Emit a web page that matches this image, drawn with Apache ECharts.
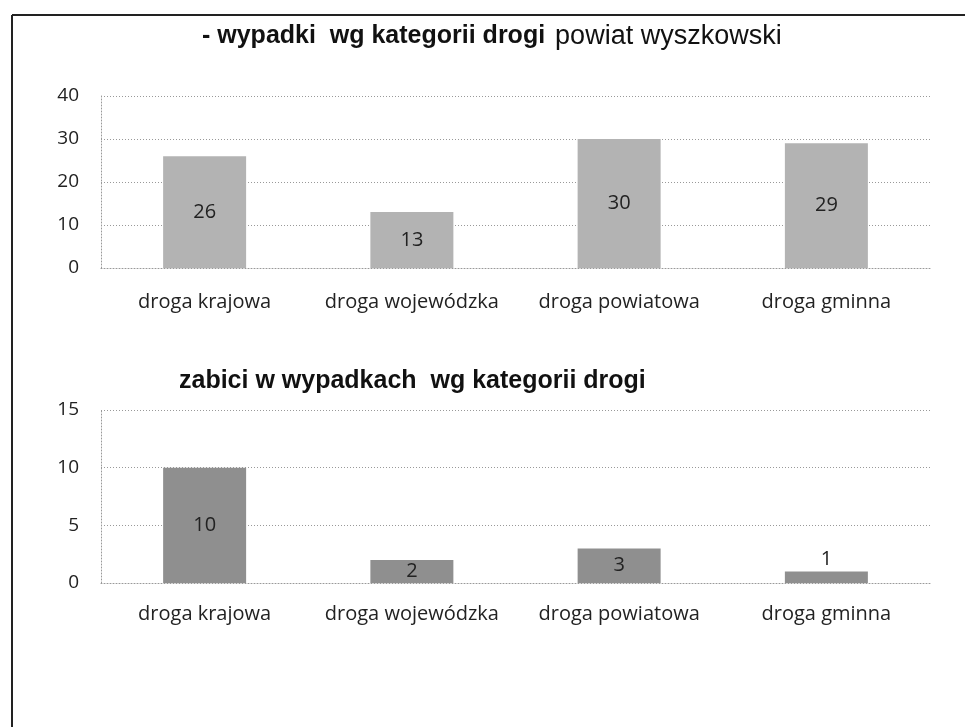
<!DOCTYPE html>
<html>
<head>
<meta charset="utf-8">
<script src="https://cdn.jsdelivr.net/npm/echarts@6/dist/echarts.min.js"></script>
<style>
  html, body { margin: 0; padding: 0; background: #fff; }
  #main { width: 965px; height: 727px; }
</style>
</head>
<body>
<div id="main"></div>
<script>
// dane
const categories = ['droga krajowa', 'droga wojewódzka', 'droga powiatowa', 'droga gminna']
const wypadki = [26, 13, 30, 29]
const zabici = [10, 2, 3, 1]

const chart = echarts.init(document.getElementById('main'))

const gridLine = { show: true, lineStyle: { color: '#999', type: [1, 2], width: 1 } }
const labelFont = 'Open Sans, sans-serif'
const titleFont = 'Liberation Sans Narrow, Liberation Sans, sans-serif'

const catAxis = (gridIndex, margin) => ({
  type: 'category',
  gridIndex,
  data: categories,
  axisLine: { show: true, lineStyle: { color: '#999', type: [1, 2] } },
  axisTick: { show: false },
  axisLabel: { interval: 0, color: '#222', fontSize: 20, fontFamily: labelFont, margin }
})

const valAxis = (gridIndex, max, interval) => ({
  type: 'value',
  gridIndex,
  min: 0,
  max,
  interval,
  axisLine: { show: true, lineStyle: { color: '#999', type: [1, 2] } },
  axisTick: { show: false },
  splitLine: gridLine,
  axisLabel: { color: '#222', fontSize: 19, fontFamily: labelFont, margin: 22 }
})

// mała wartość -> etykieta nad słupkiem
const zabiciData = zabici.map(v => v < 2 ? { value: v, label: { position: 'top', distance: 2 } } : v)

const option = {
  animation: false,
  backgroundColor: '#fff',
  title: [
    {
      left: 197,
      top: 18,
      text: '{b|- wypadki  wg kategorii drogi}  {n|powiat wyszkowski}',
      textStyle: {
        rich: {
          b: { fontFamily: titleFont, fontWeight: 'bold', fontSize: 25, color: '#111' },
          n: { fontFamily: titleFont, fontWeight: 'normal', fontSize: 27, color: '#111' }
        }
      }
    },
    {
      left: 174,
      top: 364,
      text: 'zabici w wypadkach  wg kategorii drogi',
      textStyle: { fontFamily: titleFont, fontWeight: 'bold', fontSize: 25, color: '#111' }
    }
  ],
  grid: [
    { left: 101, right: 35, top: 96, height: 172 },
    { left: 101, right: 35, top: 410, height: 173 }
  ],
  xAxis: [catAxis(0, 24), catAxis(1, 21)],
  yAxis: [valAxis(0, 40, 10), valAxis(1, 15, 5)],
  series: [
    {
      type: 'bar',
      xAxisIndex: 0,
      yAxisIndex: 0,
      data: wypadki,
      barWidth: 83,
      itemStyle: { color: '#b3b3b3' },
      label: { show: true, position: 'inside', color: '#222', fontSize: 20, fontFamily: labelFont }
    },
    {
      type: 'bar',
      xAxisIndex: 1,
      yAxisIndex: 1,
      data: zabiciData,
      barWidth: 83,
      itemStyle: { color: '#8f8f8f' },
      label: { show: true, position: 'inside', color: '#222', fontSize: 20, fontFamily: labelFont }
    }
  ],
  graphic: [
    { type: 'line', shape: { x1: 12, y1: 15, x2: 965, y2: 15 }, style: { stroke: '#222', lineWidth: 2 } },
    { type: 'line', shape: { x1: 12, y1: 15, x2: 12, y2: 727 }, style: { stroke: '#222', lineWidth: 2 } }
  ]
}

chart.setOption(option)
</script>
</body>
</html>
